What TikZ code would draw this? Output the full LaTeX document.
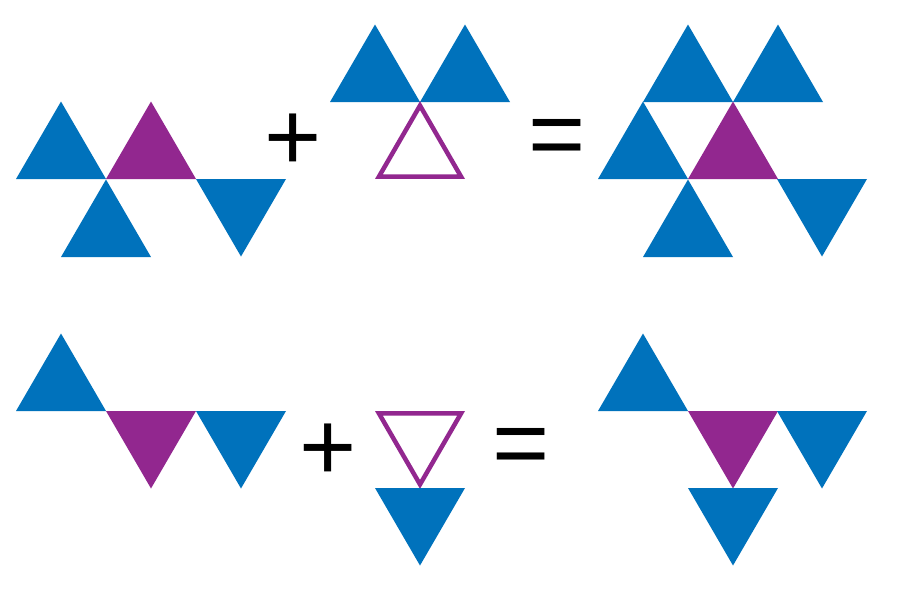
\documentclass[tikz,border=0pt]{standalone}
\usepackage{fontspec}
\setmainfont{Liberation Sans}
\definecolor{triblue}{RGB}{0,114,188}
\definecolor{tripurple}{RGB}{146,39,143}
\newcommand\triup[3]{\fill[#1] (#2,#3) -- ++(90,0) -- ++(-45,-77.5) -- cycle;}
\newcommand\tridown[3]{\fill[#1] (#2,#3) -- ++(90,0) -- ++(-45,77.5) -- cycle;}
\tikzset{
  optext/.style={inner sep=0pt, outer sep=0pt, anchor=base, font=\fontsize{98}{98}\selectfont},
  hollow/.style={draw=tripurple, line width=4.5pt, line join=miter, fill=none}
}
\begin{document}
\begin{tikzpicture}[x=1pt,y=-1pt]
\useasboundingbox[fill=white] (0,0) rectangle (900,611);
% top-left group
\triup{triblue}{16}{179}
\triup{tripurple}{106}{179}
\triup{triblue}{61}{257}
\tridown{triblue}{196}{179}
% top-middle group
\triup{triblue}{330}{102}
\triup{triblue}{420}{102}
\draw[hollow] (378.9,176.7) -- (461.1,176.7) -- (420,105.6) -- cycle;
% top-right group
\triup{triblue}{643}{102}
\triup{triblue}{733}{102}
\triup{triblue}{598}{179}
\triup{tripurple}{688}{179}
\triup{triblue}{643}{257}
\tridown{triblue}{777}{179}
% bottom-left group
\triup{triblue}{16}{411}
\tridown{tripurple}{106}{411}
\tridown{triblue}{196}{411}
% bottom-middle group
\draw[hollow] (378.9,413.3) -- (461.1,413.3) -- (420,484.4) -- cycle;
\tridown{triblue}{375}{488}
% bottom-right group
\triup{triblue}{598}{411}
\tridown{tripurple}{688}{411}
\tridown{triblue}{777}{411}
\tridown{triblue}{688}{488}
% operators
\node[optext] (plusA) at (293,170) {+};
\node[optext] (eqA) at (557,167) {=};
\node[optext] (plusB) at (328,480) {+};
\node[optext] (eqB) at (521,476) {=};
\end{tikzpicture}
\end{document}
